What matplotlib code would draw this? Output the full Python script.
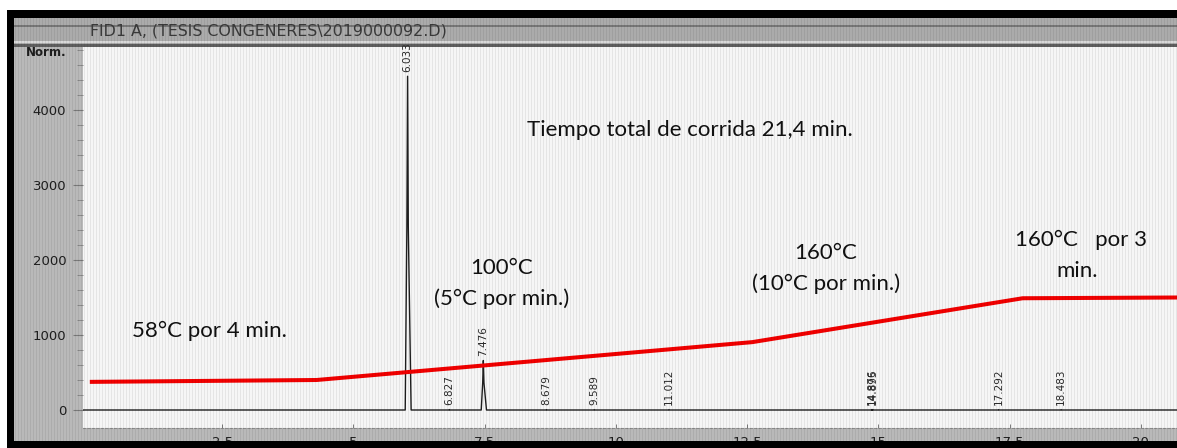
import numpy as np
import matplotlib
matplotlib.use("Agg")
import matplotlib.pyplot as plt
from matplotlib.patches import Rectangle

# --- chromatogram data -------------------------------------------------------
peak_times = [6.033, 6.827, 7.476, 8.679, 9.589, 11.012, 14.876, 14.895, 17.292, 18.483]
peak_heights = [4450, 6, 660, 5, 5, 5, 6, 6, 5, 5]
peak_halfwidths = [0.045, 0.01, 0.04, 0.01, 0.01, 0.01, 0.008, 0.008, 0.01, 0.01]
peak_labels = ["6.033", "6.827", "7.476", "8.679", "9.589", "11.012",
               "14.876", "14.895", "17.292", "18.483"]

# oven temperature programme drawn over the trace
temp_x = [-0.02, 4.30, 12.60, 17.75, 20.70]
temp_y = [375, 400, 905, 1490, 1500]

x_ticks = [2.5, 5, 7.5, 10, 12.5, 15, 17.5, 20]
x_tick_labels = ["2.5", "5", "7.5", "10", "12.5", "15", "17.5", "20"]
y_ticks = [0, 1000, 2000, 3000, 4000]
y_tick_labels = ["0", "1000", "2000", "3000", "4000"]

t_start, t_end = -0.15, 20.69

# --- figure frame --------------------------------------------------------------
W, H = 1177, 448
fig = plt.figure(figsize=(W / 100, H / 100), dpi=100, facecolor="white")


def frac(x0, y0, x1, y1):
    return [x0 / W, 1 - y1 / H, (x1 - x0) / W, (y1 - y0) / H]


def fig_rect(x0, y0, x1, y1, color, z):
    b = frac(x0, y0, x1, y1)
    fig.patches.append(Rectangle((b[0], b[1]), b[2], b[3], transform=fig.transFigure,
                                 facecolor=color, edgecolor="none", zorder=z))


# grey instrument panel
fig_rect(14, 18, W, 441, "#b9b9b9", -5)
fig_rect(14, 18, W, 47, "#ababab", -4)
fig_rect(14, 25, W, 27, "#777777", -3)
fig_rect(14, 41, W, 43, "#d9d9d9", -3)
fig_rect(14, 44, W, 47, "#5f5f5f", -3)

fig.text(90 / W, 1 - 31 / H, "FID1 A, (TESIS CONGENERES\\2019000092.D)",
         fontsize=11.4, family="DejaVu Sans", color="#3a3a3a", ha="left", va="center")

# --- plot area -------------------------------------------------------------------
ax = fig.add_axes(frac(83, 47, W, 428))
ax.set_facecolor("#f6f6f6")

# build the trace from the peak list
trace_x = [t_start]
trace_y = [0]
for rt, h, w in sorted(zip(peak_times, peak_heights, peak_halfwidths)):
    trace_x += [rt - w, rt - w * 0.3, rt, rt + w * 0.3, rt + w * 1.5]
    trace_y += [0, h * 0.55, h, h * 0.55, 0]
trace_x.append(t_end)
trace_y.append(0)
ax.plot(trace_x, trace_y, color="#1e1e1e", lw=1.0, zorder=3)

for rt, h, lab in zip(peak_times, peak_heights, peak_labels):
    ax.annotate(lab, (rt, h), xytext=(0, 3), textcoords="offset points",
                rotation=90, ha="center", va="bottom", fontsize=7.5,
                family="DejaVu Sans", color="#2a2a2a", zorder=4)

ax.plot(temp_x, temp_y, color="#f20000", lw=2.9, solid_capstyle="butt", zorder=5)

ax.set_xlim(t_start, t_end)
ax.set_ylim(-240, 4840)

for s in ["top", "right", "left"]:
    ax.spines[s].set_visible(False)
ax.spines["bottom"].set_color("#8a8a8a")
ax.spines["bottom"].set_linestyle((0, (2, 2)))
ax.spines["bottom"].set_linewidth(0.8)

ax.set_yticks(y_ticks, y_tick_labels)
ax.set_yticks(np.arange(0, 4801, 200), minor=True)
ax.tick_params(axis="y", which="major", direction="out", length=7, width=0.8,
               color="#7a7a7a", pad=5, labelsize=9.5, labelcolor="#1e1e1e")
ax.tick_params(axis="y", which="minor", direction="out", length=4, width=0.7,
               color="#8a8a8a")
ax.set_xticks(x_ticks, x_tick_labels)
ax.tick_params(axis="x", which="major", direction="in", length=3, width=0.7,
               color="#7a7a7a", pad=6, labelsize=9.5, labelcolor="#1e1e1e")
for lab in ax.get_yticklabels() + ax.get_xticklabels():
    lab.set_family("DejaVu Sans")

ax.text(-0.015, 0.985, "Norm.", transform=ax.transAxes, ha="right", va="center",
        fontsize=8.5, family="DejaVu Sans", color="#1e1e1e", weight="bold")

# temperature programme notes
note = dict(family=["Lato", "DejaVu Sans"], fontsize=16, color="#111111", zorder=6)
ax.text(8.30, 3733, "Tiempo total de corrida 21,4 min.", ha="left", va="center", **note)
ax.text(0.78, 1053, "58°C por 4 min.", ha="left", va="center", **note)
ax.text(7.83, 1893, "100°C", ha="center", va="center", **note)
ax.text(7.83, 1480, "(5°C por min.)", ha="center", va="center", **note)
ax.text(14.0, 2093, "160°C", ha="center", va="center", **note)
ax.text(14.0, 1680, "(10°C por min.)", ha="center", va="center", **note)
ax.text(17.6, 2267, "160°C   por 3", ha="left", va="center", **note)
ax.text(18.78, 1853, "min.", ha="center", va="center", **note)

# fine vertical banding of the screen photograph
cols = np.arange(W)
band = np.zeros((H, W, 4))
band[..., 3] = np.where(cols % 3 == 0, 0.07, 0.0)[None, :]
fig.figimage(band, xo=0, yo=0, zorder=8)

# black photo border over everything
fig_rect(7, 10, W, 18, "black", 10)
fig_rect(7, 10, 14, H, "black", 10)
fig_rect(7, 441, W, H, "black", 10)
fig_rect(0, 0, W, 10, "white", 11)
fig_rect(0, 0, 7, H, "white", 11)

fig.savefig("out.png", dpi=100, facecolor="white")
